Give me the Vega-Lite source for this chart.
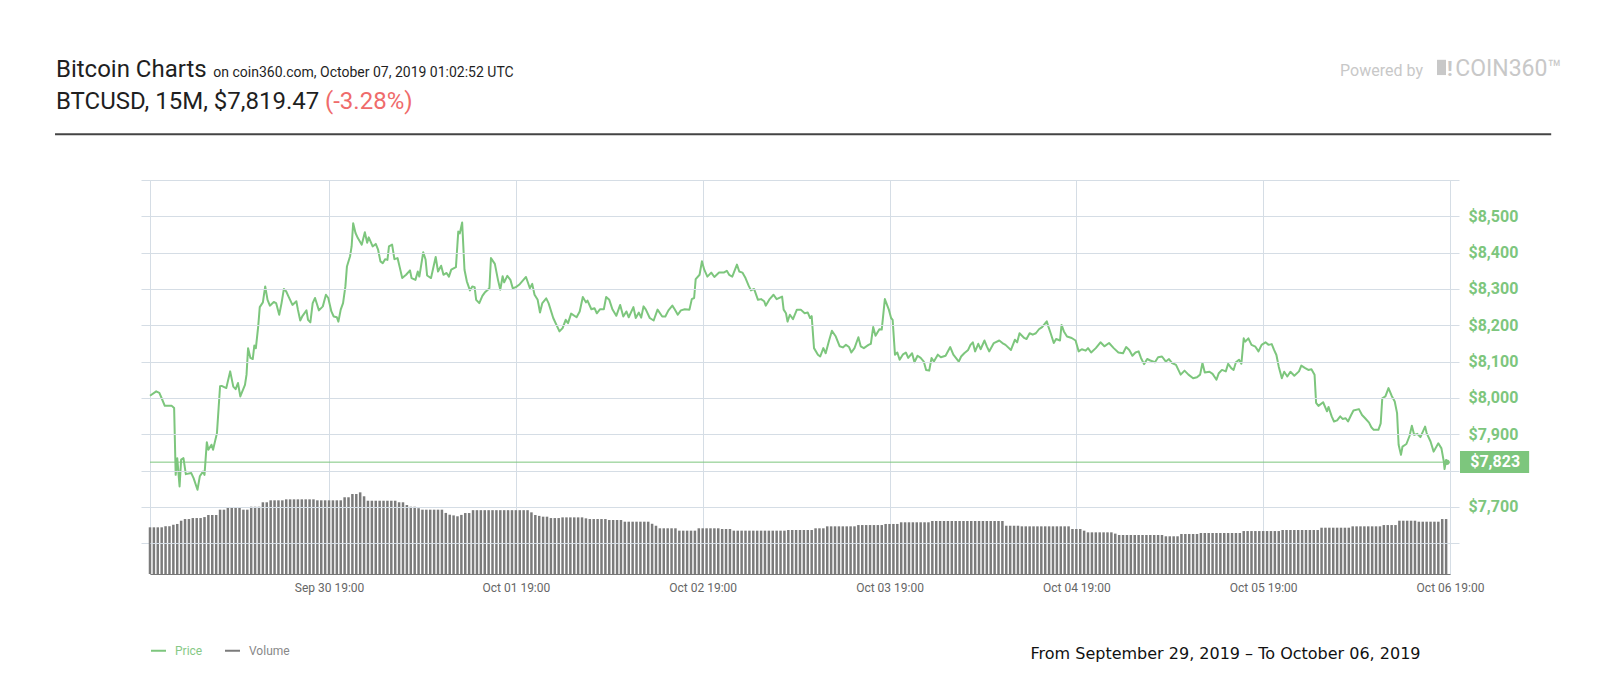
{
  "$schema": "https://vega.github.io/schema/vega-lite/v6.json",
  "width": 1300,
  "height": 394,
  "autosize": "none",
  "padding": {"left": 150, "top": 180, "right": 150, "bottom": 126},
  "background": "white",
  "config": {"font": "Roboto", "view": {"stroke": "#d5dde5"}},
  "datasets": {
    "price": [
      {"t":"2019-09-29T20:00Z","p":8006},{"t":"2019-09-29T20:48Z","p":8018},{"t":"2019-09-29T21:12Z","p":8014},{"t":"2019-09-29T21:30Z","p":7999},{"t":"2019-09-29T21:54Z","p":7978},{"t":"2019-09-29T22:48Z","p":7978},{"t":"2019-09-29T23:06Z","p":7972},{"t":"2019-09-29T23:18Z","p":7788},{"t":"2019-09-29T23:30Z","p":7834},{"t":"2019-09-29T23:48Z","p":7756},
      {"t":"2019-09-30T00:00Z","p":7830},{"t":"2019-09-30T00:18Z","p":7834},{"t":"2019-09-30T00:36Z","p":7790},{"t":"2019-09-30T01:18Z","p":7793},{"t":"2019-09-30T01:36Z","p":7779},{"t":"2019-09-30T02:06Z","p":7747},{"t":"2019-09-30T02:24Z","p":7784},{"t":"2019-09-30T02:48Z","p":7797},{"t":"2019-09-30T03:00Z","p":7788},{"t":"2019-09-30T03:18Z","p":7878},{"t":"2019-09-30T03:30Z","p":7857},{"t":"2019-09-30T03:54Z","p":7871},{"t":"2019-09-30T04:06Z","p":7857},{"t":"2019-09-30T04:36Z","p":7903},{"t":"2019-09-30T05:00Z","p":8032},{"t":"2019-09-30T05:12Z","p":8033},{"t":"2019-09-30T05:48Z","p":8027},{"t":"2019-09-30T06:18Z","p":8073},{"t":"2019-09-30T06:42Z","p":8031},{"t":"2019-09-30T07:00Z","p":8024},{"t":"2019-09-30T07:18Z","p":8041},{"t":"2019-09-30T07:36Z","p":8004},{"t":"2019-09-30T08:12Z","p":8036},{"t":"2019-09-30T08:24Z","p":8064},{"t":"2019-09-30T08:36Z","p":8137},{"t":"2019-09-30T08:54Z","p":8110},{"t":"2019-09-30T09:12Z","p":8107},{"t":"2019-09-30T09:24Z","p":8144},{"t":"2019-09-30T09:36Z","p":8137},{"t":"2019-09-30T09:54Z","p":8197},{"t":"2019-09-30T10:06Z","p":8250},{"t":"2019-09-30T10:30Z","p":8263},{"t":"2019-09-30T10:48Z","p":8307},{"t":"2019-09-30T11:06Z","p":8270},{"t":"2019-09-30T11:24Z","p":8254},{"t":"2019-09-30T11:54Z","p":8264},{"t":"2019-09-30T12:12Z","p":8261},{"t":"2019-09-30T12:36Z","p":8229},{"t":"2019-09-30T12:54Z","p":8261},{"t":"2019-09-30T13:12Z","p":8300},{"t":"2019-09-30T13:30Z","p":8293},{"t":"2019-09-30T13:48Z","p":8279},{"t":"2019-09-30T14:18Z","p":8256},{"t":"2019-09-30T14:48Z","p":8266},{"t":"2019-09-30T15:00Z","p":8243},{"t":"2019-09-30T15:18Z","p":8213},{"t":"2019-09-30T15:36Z","p":8226},{"t":"2019-09-30T16:06Z","p":8241},{"t":"2019-09-30T16:18Z","p":8215},{"t":"2019-09-30T16:36Z","p":8208},{"t":"2019-09-30T16:54Z","p":8261},{"t":"2019-09-30T17:12Z","p":8275},{"t":"2019-09-30T17:42Z","p":8241},{"t":"2019-09-30T18:12Z","p":8252},{"t":"2019-09-30T18:36Z","p":8284},{"t":"2019-09-30T18:54Z","p":8275},{"t":"2019-09-30T19:18Z","p":8238},{"t":"2019-09-30T19:36Z","p":8224},{"t":"2019-09-30T20:00Z","p":8222},{"t":"2019-09-30T20:12Z","p":8210},{"t":"2019-09-30T20:30Z","p":8243},{"t":"2019-09-30T20:48Z","p":8261},{"t":"2019-09-30T21:06Z","p":8307},{"t":"2019-09-30T21:18Z","p":8362},{"t":"2019-09-30T21:42Z","p":8390},{"t":"2019-09-30T21:54Z","p":8417},{"t":"2019-09-30T22:06Z","p":8481},{"t":"2019-09-30T22:24Z","p":8454},{"t":"2019-09-30T22:42Z","p":8440},{"t":"2019-09-30T23:12Z","p":8422},{"t":"2019-09-30T23:36Z","p":8456},{"t":"2019-09-30T23:54Z","p":8427},
      {"t":"2019-10-01T00:06Z","p":8442},{"t":"2019-10-01T00:36Z","p":8417},{"t":"2019-10-01T01:00Z","p":8424},{"t":"2019-10-01T01:18Z","p":8408},{"t":"2019-10-01T01:36Z","p":8376},{"t":"2019-10-01T01:54Z","p":8371},{"t":"2019-10-01T02:12Z","p":8382},{"t":"2019-10-01T02:30Z","p":8380},{"t":"2019-10-01T02:42Z","p":8417},{"t":"2019-10-01T03:06Z","p":8422},{"t":"2019-10-01T03:24Z","p":8382},{"t":"2019-10-01T03:48Z","p":8385},{"t":"2019-10-01T04:06Z","p":8358},{"t":"2019-10-01T04:24Z","p":8330},{"t":"2019-10-01T04:54Z","p":8339},{"t":"2019-10-01T05:24Z","p":8351},{"t":"2019-10-01T05:36Z","p":8330},{"t":"2019-10-01T06:06Z","p":8325},{"t":"2019-10-01T06:24Z","p":8348},{"t":"2019-10-01T06:36Z","p":8334},{"t":"2019-10-01T07:06Z","p":8401},{"t":"2019-10-01T07:24Z","p":8381},{"t":"2019-10-01T07:36Z","p":8337},{"t":"2019-10-01T08:06Z","p":8330},{"t":"2019-10-01T08:42Z","p":8388},{"t":"2019-10-01T09:00Z","p":8348},{"t":"2019-10-01T09:24Z","p":8364},{"t":"2019-10-01T09:42Z","p":8339},{"t":"2019-10-01T10:06Z","p":8344},{"t":"2019-10-01T10:24Z","p":8334},{"t":"2019-10-01T10:42Z","p":8353},{"t":"2019-10-01T11:18Z","p":8360},{"t":"2019-10-01T11:36Z","p":8458},{"t":"2019-10-01T11:48Z","p":8453},{"t":"2019-10-01T12:06Z","p":8483},{"t":"2019-10-01T12:24Z","p":8353},{"t":"2019-10-01T12:42Z","p":8321},{"t":"2019-10-01T13:06Z","p":8296},{"t":"2019-10-01T13:24Z","p":8307},{"t":"2019-10-01T13:42Z","p":8305},{"t":"2019-10-01T13:54Z","p":8270},{"t":"2019-10-01T14:18Z","p":8261},{"t":"2019-10-01T14:42Z","p":8281},{"t":"2019-10-01T15:00Z","p":8290},{"t":"2019-10-01T15:24Z","p":8298},{"t":"2019-10-01T15:36Z","p":8302},{"t":"2019-10-01T15:48Z","p":8385},{"t":"2019-10-01T16:18Z","p":8369},{"t":"2019-10-01T16:42Z","p":8325},{"t":"2019-10-01T17:00Z","p":8298},{"t":"2019-10-01T17:18Z","p":8335},{"t":"2019-10-01T17:30Z","p":8318},{"t":"2019-10-01T17:54Z","p":8336},{"t":"2019-10-01T18:18Z","p":8325},{"t":"2019-10-01T18:36Z","p":8302},{"t":"2019-10-01T19:00Z","p":8305},{"t":"2019-10-01T19:30Z","p":8313},{"t":"2019-10-01T20:18Z","p":8333},{"t":"2019-10-01T20:48Z","p":8302},{"t":"2019-10-01T21:06Z","p":8314},{"t":"2019-10-01T21:24Z","p":8284},{"t":"2019-10-01T21:48Z","p":8270},{"t":"2019-10-01T22:06Z","p":8235},{"t":"2019-10-01T22:24Z","p":8261},{"t":"2019-10-01T22:54Z","p":8274},{"t":"2019-10-01T23:12Z","p":8261},{"t":"2019-10-01T23:48Z","p":8220},
      {"t":"2019-10-02T00:36Z","p":8183},{"t":"2019-10-02T01:00Z","p":8192},{"t":"2019-10-02T01:24Z","p":8215},{"t":"2019-10-02T01:42Z","p":8206},{"t":"2019-10-02T02:06Z","p":8232},{"t":"2019-10-02T02:48Z","p":8222},{"t":"2019-10-02T03:12Z","p":8238},{"t":"2019-10-02T03:36Z","p":8278},{"t":"2019-10-02T04:00Z","p":8263},{"t":"2019-10-02T04:12Z","p":8268},{"t":"2019-10-02T04:42Z","p":8244},{"t":"2019-10-02T05:06Z","p":8247},{"t":"2019-10-02T05:24Z","p":8233},{"t":"2019-10-02T05:48Z","p":8244},{"t":"2019-10-02T06:18Z","p":8244},{"t":"2019-10-02T06:36Z","p":8278},{"t":"2019-10-02T07:00Z","p":8270},{"t":"2019-10-02T07:24Z","p":8244},{"t":"2019-10-02T07:54Z","p":8226},{"t":"2019-10-02T08:24Z","p":8256},{"t":"2019-10-02T08:48Z","p":8224},{"t":"2019-10-02T09:12Z","p":8238},{"t":"2019-10-02T09:30Z","p":8222},{"t":"2019-10-02T10:06Z","p":8250},{"t":"2019-10-02T10:24Z","p":8220},{"t":"2019-10-02T10:48Z","p":8235},{"t":"2019-10-02T11:06Z","p":8221},{"t":"2019-10-02T11:24Z","p":8252},{"t":"2019-10-02T11:42Z","p":8243},{"t":"2019-10-02T12:12Z","p":8220},{"t":"2019-10-02T12:42Z","p":8213},{"t":"2019-10-02T13:12Z","p":8243},{"t":"2019-10-02T13:48Z","p":8224},{"t":"2019-10-02T14:12Z","p":8224},{"t":"2019-10-02T14:36Z","p":8241},{"t":"2019-10-02T15:06Z","p":8254},{"t":"2019-10-02T15:24Z","p":8244},{"t":"2019-10-02T15:48Z","p":8229},{"t":"2019-10-02T16:12Z","p":8241},{"t":"2019-10-02T16:42Z","p":8244},{"t":"2019-10-02T17:18Z","p":8243},{"t":"2019-10-02T17:36Z","p":8272},{"t":"2019-10-02T17:54Z","p":8275},{"t":"2019-10-02T18:06Z","p":8327},{"t":"2019-10-02T18:36Z","p":8339},{"t":"2019-10-02T18:54Z","p":8376},{"t":"2019-10-02T19:12Z","p":8353},{"t":"2019-10-02T19:36Z","p":8334},{"t":"2019-10-02T20:06Z","p":8345},{"t":"2019-10-02T20:30Z","p":8333},{"t":"2019-10-02T21:06Z","p":8345},{"t":"2019-10-02T21:42Z","p":8345},{"t":"2019-10-02T22:06Z","p":8350},{"t":"2019-10-02T22:24Z","p":8339},{"t":"2019-10-02T22:48Z","p":8334},{"t":"2019-10-02T23:24Z","p":8367},{"t":"2019-10-02T23:42Z","p":8348},
      {"t":"2019-10-03T00:06Z","p":8345},{"t":"2019-10-03T00:30Z","p":8330},{"t":"2019-10-03T00:54Z","p":8309},{"t":"2019-10-03T01:12Z","p":8296},{"t":"2019-10-03T01:36Z","p":8300},{"t":"2019-10-03T02:06Z","p":8270},{"t":"2019-10-03T02:30Z","p":8272},{"t":"2019-10-03T02:54Z","p":8266},{"t":"2019-10-03T03:06Z","p":8254},{"t":"2019-10-03T03:36Z","p":8272},{"t":"2019-10-03T04:06Z","p":8284},{"t":"2019-10-03T04:30Z","p":8272},{"t":"2019-10-03T05:12Z","p":8279},{"t":"2019-10-03T05:24Z","p":8243},{"t":"2019-10-03T05:42Z","p":8233},{"t":"2019-10-03T05:54Z","p":8210},{"t":"2019-10-03T06:12Z","p":8229},{"t":"2019-10-03T06:36Z","p":8217},{"t":"2019-10-03T07:06Z","p":8243},{"t":"2019-10-03T07:36Z","p":8243},{"t":"2019-10-03T08:06Z","p":8233},{"t":"2019-10-03T08:30Z","p":8235},{"t":"2019-10-03T08:48Z","p":8220},{"t":"2019-10-03T09:00Z","p":8225},{"t":"2019-10-03T09:18Z","p":8137},{"t":"2019-10-03T09:48Z","p":8119},{"t":"2019-10-03T10:06Z","p":8114},{"t":"2019-10-03T10:30Z","p":8137},{"t":"2019-10-03T10:48Z","p":8123},{"t":"2019-10-03T11:12Z","p":8155},{"t":"2019-10-03T11:36Z","p":8185},{"t":"2019-10-03T12:06Z","p":8169},{"t":"2019-10-03T12:36Z","p":8142},{"t":"2019-10-03T13:00Z","p":8139},{"t":"2019-10-03T13:24Z","p":8146},{"t":"2019-10-03T13:48Z","p":8140},{"t":"2019-10-03T14:06Z","p":8125},{"t":"2019-10-03T14:30Z","p":8137},{"t":"2019-10-03T15:00Z","p":8167},{"t":"2019-10-03T15:18Z","p":8142},{"t":"2019-10-03T15:42Z","p":8137},{"t":"2019-10-03T16:18Z","p":8146},{"t":"2019-10-03T16:36Z","p":8149},{"t":"2019-10-03T16:54Z","p":8195},{"t":"2019-10-03T17:12Z","p":8171},{"t":"2019-10-03T17:42Z","p":8189},{"t":"2019-10-03T18:00Z","p":8188},{"t":"2019-10-03T18:24Z","p":8272},{"t":"2019-10-03T18:54Z","p":8244},{"t":"2019-10-03T19:12Z","p":8220},{"t":"2019-10-03T19:24Z","p":8215},{"t":"2019-10-03T19:42Z","p":8119},{"t":"2019-10-03T20:00Z","p":8125},{"t":"2019-10-03T20:18Z","p":8105},{"t":"2019-10-03T20:42Z","p":8119},{"t":"2019-10-03T21:06Z","p":8125},{"t":"2019-10-03T21:24Z","p":8110},{"t":"2019-10-03T21:54Z","p":8123},{"t":"2019-10-03T22:12Z","p":8098},{"t":"2019-10-03T22:36Z","p":8116},{"t":"2019-10-03T23:00Z","p":8110},{"t":"2019-10-03T23:24Z","p":8100},{"t":"2019-10-03T23:42Z","p":8077},
      {"t":"2019-10-04T00:06Z","p":8075},{"t":"2019-10-04T00:24Z","p":8110},{"t":"2019-10-04T00:42Z","p":8100},{"t":"2019-10-04T01:12Z","p":8119},{"t":"2019-10-04T01:36Z","p":8112},{"t":"2019-10-04T02:12Z","p":8116},{"t":"2019-10-04T02:48Z","p":8140},{"t":"2019-10-04T03:12Z","p":8119},{"t":"2019-10-04T03:54Z","p":8100},{"t":"2019-10-04T04:12Z","p":8114},{"t":"2019-10-04T04:36Z","p":8123},{"t":"2019-10-04T05:06Z","p":8132},{"t":"2019-10-04T05:24Z","p":8146},{"t":"2019-10-04T05:42Z","p":8153},{"t":"2019-10-04T06:00Z","p":8128},{"t":"2019-10-04T06:24Z","p":8149},{"t":"2019-10-04T06:42Z","p":8134},{"t":"2019-10-04T07:12Z","p":8158},{"t":"2019-10-04T07:30Z","p":8142},{"t":"2019-10-04T07:48Z","p":8128},{"t":"2019-10-04T08:24Z","p":8151},{"t":"2019-10-04T09:06Z","p":8158},{"t":"2019-10-04T09:30Z","p":8151},{"t":"2019-10-04T09:54Z","p":8146},{"t":"2019-10-04T10:36Z","p":8132},{"t":"2019-10-04T11:06Z","p":8160},{"t":"2019-10-04T11:24Z","p":8153},{"t":"2019-10-04T11:42Z","p":8178},{"t":"2019-10-04T12:18Z","p":8165},{"t":"2019-10-04T12:36Z","p":8162},{"t":"2019-10-04T13:00Z","p":8178},{"t":"2019-10-04T13:24Z","p":8174},{"t":"2019-10-04T13:48Z","p":8178},{"t":"2019-10-04T14:12Z","p":8189},{"t":"2019-10-04T14:36Z","p":8195},{"t":"2019-10-04T15:12Z","p":8211},{"t":"2019-10-04T15:24Z","p":8197},{"t":"2019-10-04T15:42Z","p":8178},{"t":"2019-10-04T16:06Z","p":8151},{"t":"2019-10-04T16:24Z","p":8162},{"t":"2019-10-04T16:54Z","p":8158},{"t":"2019-10-04T17:06Z","p":8201},{"t":"2019-10-04T17:24Z","p":8183},{"t":"2019-10-04T17:48Z","p":8169},{"t":"2019-10-04T18:24Z","p":8165},{"t":"2019-10-04T18:54Z","p":8158},{"t":"2019-10-04T19:18Z","p":8128},{"t":"2019-10-04T19:42Z","p":8134},{"t":"2019-10-04T20:12Z","p":8130},{"t":"2019-10-04T20:30Z","p":8137},{"t":"2019-10-04T20:54Z","p":8125},{"t":"2019-10-04T21:30Z","p":8137},{"t":"2019-10-04T22:06Z","p":8153},{"t":"2019-10-04T22:36Z","p":8142},{"t":"2019-10-04T23:12Z","p":8151},{"t":"2019-10-04T23:48Z","p":8137},
      {"t":"2019-10-05T00:24Z","p":8125},{"t":"2019-10-05T01:00Z","p":8123},{"t":"2019-10-05T01:24Z","p":8140},{"t":"2019-10-05T01:48Z","p":8132},{"t":"2019-10-05T02:12Z","p":8116},{"t":"2019-10-05T02:36Z","p":8125},{"t":"2019-10-05T03:00Z","p":8128},{"t":"2019-10-05T03:18Z","p":8110},{"t":"2019-10-05T03:42Z","p":8093},{"t":"2019-10-05T04:06Z","p":8107},{"t":"2019-10-05T04:30Z","p":8103},{"t":"2019-10-05T05:06Z","p":8098},{"t":"2019-10-05T05:30Z","p":8112},{"t":"2019-10-05T06:00Z","p":8114},{"t":"2019-10-05T06:30Z","p":8100},{"t":"2019-10-05T06:54Z","p":8107},{"t":"2019-10-05T07:18Z","p":8096},{"t":"2019-10-05T07:48Z","p":8091},{"t":"2019-10-05T08:24Z","p":8064},{"t":"2019-10-05T08:54Z","p":8075},{"t":"2019-10-05T09:24Z","p":8064},{"t":"2019-10-05T10:00Z","p":8054},{"t":"2019-10-05T10:30Z","p":8057},{"t":"2019-10-05T10:54Z","p":8064},{"t":"2019-10-05T11:12Z","p":8096},{"t":"2019-10-05T11:30Z","p":8070},{"t":"2019-10-05T12:06Z","p":8072},{"t":"2019-10-05T12:30Z","p":8066},{"t":"2019-10-05T13:00Z","p":8050},{"t":"2019-10-05T13:18Z","p":8068},{"t":"2019-10-05T13:42Z","p":8077},{"t":"2019-10-05T14:12Z","p":8073},{"t":"2019-10-05T14:30Z","p":8094},{"t":"2019-10-05T14:54Z","p":8082},{"t":"2019-10-05T15:12Z","p":8077},{"t":"2019-10-05T15:30Z","p":8098},{"t":"2019-10-05T15:54Z","p":8105},{"t":"2019-10-05T16:12Z","p":8094},{"t":"2019-10-05T16:30Z","p":8164},{"t":"2019-10-05T16:42Z","p":8155},{"t":"2019-10-05T17:06Z","p":8164},{"t":"2019-10-05T17:30Z","p":8146},{"t":"2019-10-05T18:00Z","p":8141},{"t":"2019-10-05T18:24Z","p":8128},{"t":"2019-10-05T18:48Z","p":8146},{"t":"2019-10-05T19:18Z","p":8153},{"t":"2019-10-05T19:42Z","p":8146},{"t":"2019-10-05T20:06Z","p":8148},{"t":"2019-10-05T20:24Z","p":8132},{"t":"2019-10-05T20:42Z","p":8118},{"t":"2019-10-05T21:00Z","p":8086},{"t":"2019-10-05T21:24Z","p":8054},{"t":"2019-10-05T21:42Z","p":8072},{"t":"2019-10-05T22:06Z","p":8059},{"t":"2019-10-05T22:30Z","p":8072},{"t":"2019-10-05T23:00Z","p":8061},{"t":"2019-10-05T23:36Z","p":8073},{"t":"2019-10-05T23:54Z","p":8089},
      {"t":"2019-10-06T00:24Z","p":8082},{"t":"2019-10-06T00:48Z","p":8077},{"t":"2019-10-06T01:12Z","p":8079},{"t":"2019-10-06T01:36Z","p":8064},{"t":"2019-10-06T01:48Z","p":7986},{"t":"2019-10-06T02:06Z","p":7978},{"t":"2019-10-06T02:42Z","p":7988},{"t":"2019-10-06T03:12Z","p":7963},{"t":"2019-10-06T03:24Z","p":7975},{"t":"2019-10-06T03:48Z","p":7949},{"t":"2019-10-06T04:06Z","p":7935},{"t":"2019-10-06T04:30Z","p":7938},{"t":"2019-10-06T04:54Z","p":7949},{"t":"2019-10-06T05:12Z","p":7942},{"t":"2019-10-06T05:36Z","p":7944},{"t":"2019-10-06T05:54Z","p":7935},{"t":"2019-10-06T06:18Z","p":7953},{"t":"2019-10-06T06:36Z","p":7965},{"t":"2019-10-06T07:18Z","p":7969},{"t":"2019-10-06T07:42Z","p":7953},{"t":"2019-10-06T08:06Z","p":7944},{"t":"2019-10-06T08:36Z","p":7932},{"t":"2019-10-06T08:54Z","p":7919},{"t":"2019-10-06T09:12Z","p":7912},{"t":"2019-10-06T09:48Z","p":7912},{"t":"2019-10-06T10:06Z","p":7930},{"t":"2019-10-06T10:18Z","p":7999},{"t":"2019-10-06T10:42Z","p":8004},{"t":"2019-10-06T11:06Z","p":8027},{"t":"2019-10-06T11:30Z","p":8006},{"t":"2019-10-06T11:54Z","p":7990},{"t":"2019-10-06T12:12Z","p":7958},{"t":"2019-10-06T12:24Z","p":7871},{"t":"2019-10-06T12:42Z","p":7843},{"t":"2019-10-06T12:54Z","p":7866},{"t":"2019-10-06T13:24Z","p":7873},{"t":"2019-10-06T13:48Z","p":7895},{"t":"2019-10-06T14:06Z","p":7923},{"t":"2019-10-06T14:24Z","p":7898},{"t":"2019-10-06T14:48Z","p":7901},{"t":"2019-10-06T15:12Z","p":7892},{"t":"2019-10-06T15:48Z","p":7921},{"t":"2019-10-06T16:00Z","p":7903},{"t":"2019-10-06T16:30Z","p":7880},{"t":"2019-10-06T16:54Z","p":7852},{"t":"2019-10-06T17:30Z","p":7875},{"t":"2019-10-06T17:54Z","p":7861},{"t":"2019-10-06T18:12Z","p":7825},{"t":"2019-10-06T18:18Z","p":7804},{"t":"2019-10-06T18:30Z","p":7829},{"t":"2019-10-06T18:36Z","p":7823}
    ],
    "volume": [
      {"t":"2019-09-29T20:00Z","v":474},{"t":"2019-09-29T20:30Z","v":474},{"t":"2019-09-29T21:00Z","v":474},{"t":"2019-09-29T21:30Z","v":474},{"t":"2019-09-29T22:00Z","v":485},{"t":"2019-09-29T22:30Z","v":485},{"t":"2019-09-29T23:00Z","v":500},{"t":"2019-09-29T23:30Z","v":508},
      {"t":"2019-09-30T00:00Z","v":541},{"t":"2019-09-30T00:30Z","v":558},{"t":"2019-09-30T01:00Z","v":558},{"t":"2019-09-30T01:30Z","v":568},{"t":"2019-09-30T02:00Z","v":568},{"t":"2019-09-30T02:30Z","v":568},{"t":"2019-09-30T03:00Z","v":578},{"t":"2019-09-30T03:30Z","v":599},{"t":"2019-09-30T04:00Z","v":599},{"t":"2019-09-30T04:30Z","v":599},{"t":"2019-09-30T05:00Z","v":653},{"t":"2019-09-30T05:30Z","v":653},{"t":"2019-09-30T06:00Z","v":677},{"t":"2019-09-30T06:30Z","v":677},{"t":"2019-09-30T07:00Z","v":677},{"t":"2019-09-30T07:30Z","v":677},{"t":"2019-09-30T08:00Z","v":653},{"t":"2019-09-30T08:30Z","v":653},{"t":"2019-09-30T09:00Z","v":683},{"t":"2019-09-30T09:30Z","v":683},{"t":"2019-09-30T10:00Z","v":683},{"t":"2019-09-30T10:30Z","v":728},{"t":"2019-09-30T11:00Z","v":728},{"t":"2019-09-30T11:30Z","v":748},{"t":"2019-09-30T12:00Z","v":748},{"t":"2019-09-30T12:30Z","v":748},{"t":"2019-09-30T13:00Z","v":748},{"t":"2019-09-30T13:30Z","v":758},{"t":"2019-09-30T14:00Z","v":758},{"t":"2019-09-30T14:30Z","v":758},{"t":"2019-09-30T15:00Z","v":758},{"t":"2019-09-30T15:30Z","v":758},{"t":"2019-09-30T16:00Z","v":758},{"t":"2019-09-30T16:30Z","v":758},{"t":"2019-09-30T17:00Z","v":758},{"t":"2019-09-30T17:30Z","v":748},{"t":"2019-09-30T18:00Z","v":748},{"t":"2019-09-30T18:30Z","v":748},{"t":"2019-09-30T19:00Z","v":748},{"t":"2019-09-30T19:30Z","v":748},{"t":"2019-09-30T20:00Z","v":748},{"t":"2019-09-30T20:30Z","v":748},{"t":"2019-09-30T21:00Z","v":779},{"t":"2019-09-30T21:30Z","v":779},{"t":"2019-09-30T22:00Z","v":812},{"t":"2019-09-30T22:30Z","v":812},{"t":"2019-09-30T23:00Z","v":829},{"t":"2019-09-30T23:30Z","v":789},
      {"t":"2019-10-01T00:00Z","v":744},{"t":"2019-10-01T00:30Z","v":744},{"t":"2019-10-01T01:00Z","v":744},{"t":"2019-10-01T01:30Z","v":744},{"t":"2019-10-01T02:00Z","v":744},{"t":"2019-10-01T02:30Z","v":744},{"t":"2019-10-01T03:00Z","v":744},{"t":"2019-10-01T03:30Z","v":744},{"t":"2019-10-01T04:00Z","v":728},{"t":"2019-10-01T04:30Z","v":728},{"t":"2019-10-01T05:00Z","v":700},{"t":"2019-10-01T05:30Z","v":683},{"t":"2019-10-01T06:00Z","v":683},{"t":"2019-10-01T06:30Z","v":668},{"t":"2019-10-01T07:00Z","v":653},{"t":"2019-10-01T07:30Z","v":653},{"t":"2019-10-01T08:00Z","v":653},{"t":"2019-10-01T08:30Z","v":653},{"t":"2019-10-01T09:00Z","v":653},{"t":"2019-10-01T09:30Z","v":653},{"t":"2019-10-01T10:00Z","v":620},{"t":"2019-10-01T10:30Z","v":602},{"t":"2019-10-01T11:00Z","v":595},{"t":"2019-10-01T11:30Z","v":586},{"t":"2019-10-01T12:00Z","v":600},{"t":"2019-10-01T12:30Z","v":619},{"t":"2019-10-01T13:00Z","v":619},{"t":"2019-10-01T13:30Z","v":648},{"t":"2019-10-01T14:00Z","v":648},{"t":"2019-10-01T14:30Z","v":648},{"t":"2019-10-01T15:00Z","v":648},{"t":"2019-10-01T15:30Z","v":648},{"t":"2019-10-01T16:00Z","v":648},{"t":"2019-10-01T16:30Z","v":648},{"t":"2019-10-01T17:00Z","v":648},{"t":"2019-10-01T17:30Z","v":648},{"t":"2019-10-01T18:00Z","v":648},{"t":"2019-10-01T18:30Z","v":648},{"t":"2019-10-01T19:00Z","v":648},{"t":"2019-10-01T19:30Z","v":648},{"t":"2019-10-01T20:00Z","v":648},{"t":"2019-10-01T20:30Z","v":648},{"t":"2019-10-01T21:00Z","v":626},{"t":"2019-10-01T21:30Z","v":599},{"t":"2019-10-01T22:00Z","v":590},{"t":"2019-10-01T22:30Z","v":582},{"t":"2019-10-01T23:00Z","v":582},{"t":"2019-10-01T23:30Z","v":568},
      {"t":"2019-10-02T00:00Z","v":568},{"t":"2019-10-02T00:30Z","v":568},{"t":"2019-10-02T01:00Z","v":575},{"t":"2019-10-02T01:30Z","v":575},{"t":"2019-10-02T02:00Z","v":575},{"t":"2019-10-02T02:30Z","v":575},{"t":"2019-10-02T03:00Z","v":575},{"t":"2019-10-02T03:30Z","v":575},{"t":"2019-10-02T04:00Z","v":565},{"t":"2019-10-02T04:30Z","v":558},{"t":"2019-10-02T05:00Z","v":558},{"t":"2019-10-02T05:30Z","v":558},{"t":"2019-10-02T06:00Z","v":558},{"t":"2019-10-02T06:30Z","v":558},{"t":"2019-10-02T07:00Z","v":548},{"t":"2019-10-02T07:30Z","v":548},{"t":"2019-10-02T08:00Z","v":548},{"t":"2019-10-02T08:30Z","v":548},{"t":"2019-10-02T09:00Z","v":531},{"t":"2019-10-02T09:30Z","v":531},{"t":"2019-10-02T10:00Z","v":531},{"t":"2019-10-02T10:30Z","v":531},{"t":"2019-10-02T11:00Z","v":531},{"t":"2019-10-02T11:30Z","v":531},{"t":"2019-10-02T12:00Z","v":531},{"t":"2019-10-02T12:30Z","v":510},{"t":"2019-10-02T13:00Z","v":490},{"t":"2019-10-02T13:30Z","v":464},{"t":"2019-10-02T14:00Z","v":464},{"t":"2019-10-02T14:30Z","v":464},{"t":"2019-10-02T15:00Z","v":464},{"t":"2019-10-02T15:30Z","v":464},{"t":"2019-10-02T16:00Z","v":440},{"t":"2019-10-02T16:30Z","v":440},{"t":"2019-10-02T17:00Z","v":440},{"t":"2019-10-02T17:30Z","v":440},{"t":"2019-10-02T18:00Z","v":440},{"t":"2019-10-02T18:30Z","v":464},{"t":"2019-10-02T19:00Z","v":464},{"t":"2019-10-02T19:30Z","v":464},{"t":"2019-10-02T20:00Z","v":464},{"t":"2019-10-02T20:30Z","v":464},{"t":"2019-10-02T21:00Z","v":464},{"t":"2019-10-02T21:30Z","v":457},{"t":"2019-10-02T22:00Z","v":457},{"t":"2019-10-02T22:30Z","v":457},{"t":"2019-10-02T23:00Z","v":440},{"t":"2019-10-02T23:30Z","v":440},
      {"t":"2019-10-03T00:00Z","v":440},{"t":"2019-10-03T00:30Z","v":440},{"t":"2019-10-03T01:00Z","v":440},{"t":"2019-10-03T01:30Z","v":440},{"t":"2019-10-03T02:00Z","v":440},{"t":"2019-10-03T02:30Z","v":440},{"t":"2019-10-03T03:00Z","v":440},{"t":"2019-10-03T03:30Z","v":440},{"t":"2019-10-03T04:00Z","v":440},{"t":"2019-10-03T04:30Z","v":440},{"t":"2019-10-03T05:00Z","v":440},{"t":"2019-10-03T05:30Z","v":440},{"t":"2019-10-03T06:00Z","v":447},{"t":"2019-10-03T06:30Z","v":447},{"t":"2019-10-03T07:00Z","v":447},{"t":"2019-10-03T07:30Z","v":447},{"t":"2019-10-03T08:00Z","v":447},{"t":"2019-10-03T08:30Z","v":447},{"t":"2019-10-03T09:00Z","v":447},{"t":"2019-10-03T09:30Z","v":464},{"t":"2019-10-03T10:00Z","v":464},{"t":"2019-10-03T10:30Z","v":464},{"t":"2019-10-03T11:00Z","v":484},{"t":"2019-10-03T11:30Z","v":484},{"t":"2019-10-03T12:00Z","v":484},{"t":"2019-10-03T12:30Z","v":484},{"t":"2019-10-03T13:00Z","v":484},{"t":"2019-10-03T13:30Z","v":484},{"t":"2019-10-03T14:00Z","v":484},{"t":"2019-10-03T14:30Z","v":484},{"t":"2019-10-03T15:00Z","v":497},{"t":"2019-10-03T15:30Z","v":497},{"t":"2019-10-03T16:00Z","v":497},{"t":"2019-10-03T16:30Z","v":497},{"t":"2019-10-03T17:00Z","v":497},{"t":"2019-10-03T17:30Z","v":497},{"t":"2019-10-03T18:00Z","v":497},{"t":"2019-10-03T18:30Z","v":508},{"t":"2019-10-03T19:00Z","v":508},{"t":"2019-10-03T19:30Z","v":508},{"t":"2019-10-03T20:00Z","v":508},{"t":"2019-10-03T20:30Z","v":525},{"t":"2019-10-03T21:00Z","v":525},{"t":"2019-10-03T21:30Z","v":525},{"t":"2019-10-03T22:00Z","v":525},{"t":"2019-10-03T22:30Z","v":525},{"t":"2019-10-03T23:00Z","v":525},{"t":"2019-10-03T23:30Z","v":525},
      {"t":"2019-10-04T00:00Z","v":525},{"t":"2019-10-04T00:30Z","v":538},{"t":"2019-10-04T01:00Z","v":538},{"t":"2019-10-04T01:30Z","v":538},{"t":"2019-10-04T02:00Z","v":538},{"t":"2019-10-04T02:30Z","v":538},{"t":"2019-10-04T03:00Z","v":538},{"t":"2019-10-04T03:30Z","v":538},{"t":"2019-10-04T04:00Z","v":538},{"t":"2019-10-04T04:30Z","v":538},{"t":"2019-10-04T05:00Z","v":538},{"t":"2019-10-04T05:30Z","v":538},{"t":"2019-10-04T06:00Z","v":538},{"t":"2019-10-04T06:30Z","v":538},{"t":"2019-10-04T07:00Z","v":538},{"t":"2019-10-04T07:30Z","v":538},{"t":"2019-10-04T08:00Z","v":538},{"t":"2019-10-04T08:30Z","v":538},{"t":"2019-10-04T09:00Z","v":538},{"t":"2019-10-04T09:30Z","v":538},{"t":"2019-10-04T10:00Z","v":490},{"t":"2019-10-04T10:30Z","v":490},{"t":"2019-10-04T11:00Z","v":490},{"t":"2019-10-04T11:30Z","v":490},{"t":"2019-10-04T12:00Z","v":484},{"t":"2019-10-04T12:30Z","v":484},{"t":"2019-10-04T13:00Z","v":484},{"t":"2019-10-04T13:30Z","v":484},{"t":"2019-10-04T14:00Z","v":484},{"t":"2019-10-04T14:30Z","v":484},{"t":"2019-10-04T15:00Z","v":484},{"t":"2019-10-04T15:30Z","v":484},{"t":"2019-10-04T16:00Z","v":484},{"t":"2019-10-04T16:30Z","v":484},{"t":"2019-10-04T17:00Z","v":484},{"t":"2019-10-04T17:30Z","v":484},{"t":"2019-10-04T18:00Z","v":484},{"t":"2019-10-04T18:30Z","v":457},{"t":"2019-10-04T19:00Z","v":457},{"t":"2019-10-04T19:30Z","v":457},{"t":"2019-10-04T20:00Z","v":440},{"t":"2019-10-04T20:30Z","v":423},{"t":"2019-10-04T21:00Z","v":423},{"t":"2019-10-04T21:30Z","v":423},{"t":"2019-10-04T22:00Z","v":423},{"t":"2019-10-04T22:30Z","v":423},{"t":"2019-10-04T23:00Z","v":423},{"t":"2019-10-04T23:30Z","v":423},
      {"t":"2019-10-05T00:00Z","v":410},{"t":"2019-10-05T00:30Z","v":396},{"t":"2019-10-05T01:00Z","v":396},{"t":"2019-10-05T01:30Z","v":396},{"t":"2019-10-05T02:00Z","v":396},{"t":"2019-10-05T02:30Z","v":396},{"t":"2019-10-05T03:00Z","v":396},{"t":"2019-10-05T03:30Z","v":396},{"t":"2019-10-05T04:00Z","v":396},{"t":"2019-10-05T04:30Z","v":396},{"t":"2019-10-05T05:00Z","v":396},{"t":"2019-10-05T05:30Z","v":396},{"t":"2019-10-05T06:00Z","v":396},{"t":"2019-10-05T06:30Z","v":383},{"t":"2019-10-05T07:00Z","v":383},{"t":"2019-10-05T07:30Z","v":383},{"t":"2019-10-05T08:00Z","v":383},{"t":"2019-10-05T08:30Z","v":406},{"t":"2019-10-05T09:00Z","v":406},{"t":"2019-10-05T09:30Z","v":406},{"t":"2019-10-05T10:00Z","v":406},{"t":"2019-10-05T10:30Z","v":406},{"t":"2019-10-05T11:00Z","v":416},{"t":"2019-10-05T11:30Z","v":416},{"t":"2019-10-05T12:00Z","v":416},{"t":"2019-10-05T12:30Z","v":416},{"t":"2019-10-05T13:00Z","v":416},{"t":"2019-10-05T13:30Z","v":416},{"t":"2019-10-05T14:00Z","v":416},{"t":"2019-10-05T14:30Z","v":416},{"t":"2019-10-05T15:00Z","v":416},{"t":"2019-10-05T15:30Z","v":416},{"t":"2019-10-05T16:00Z","v":416},{"t":"2019-10-05T16:30Z","v":436},{"t":"2019-10-05T17:00Z","v":436},{"t":"2019-10-05T17:30Z","v":436},{"t":"2019-10-05T18:00Z","v":436},{"t":"2019-10-05T18:30Z","v":436},{"t":"2019-10-05T19:00Z","v":436},{"t":"2019-10-05T19:30Z","v":436},{"t":"2019-10-05T20:00Z","v":436},{"t":"2019-10-05T20:30Z","v":436},{"t":"2019-10-05T21:00Z","v":436},{"t":"2019-10-05T21:30Z","v":447},{"t":"2019-10-05T22:00Z","v":447},{"t":"2019-10-05T22:30Z","v":447},{"t":"2019-10-05T23:00Z","v":447},{"t":"2019-10-05T23:30Z","v":447},
      {"t":"2019-10-06T00:00Z","v":447},{"t":"2019-10-06T00:30Z","v":447},{"t":"2019-10-06T01:00Z","v":447},{"t":"2019-10-06T01:30Z","v":447},{"t":"2019-10-06T02:00Z","v":447},{"t":"2019-10-06T02:30Z","v":470},{"t":"2019-10-06T03:00Z","v":470},{"t":"2019-10-06T03:30Z","v":470},{"t":"2019-10-06T04:00Z","v":470},{"t":"2019-10-06T04:30Z","v":470},{"t":"2019-10-06T05:00Z","v":470},{"t":"2019-10-06T05:30Z","v":470},{"t":"2019-10-06T06:00Z","v":470},{"t":"2019-10-06T06:30Z","v":484},{"t":"2019-10-06T07:00Z","v":484},{"t":"2019-10-06T07:30Z","v":484},{"t":"2019-10-06T08:00Z","v":484},{"t":"2019-10-06T08:30Z","v":484},{"t":"2019-10-06T09:00Z","v":484},{"t":"2019-10-06T09:30Z","v":484},{"t":"2019-10-06T10:00Z","v":484},{"t":"2019-10-06T10:30Z","v":497},{"t":"2019-10-06T11:00Z","v":497},{"t":"2019-10-06T11:30Z","v":497},{"t":"2019-10-06T12:00Z","v":497},{"t":"2019-10-06T12:30Z","v":541},{"t":"2019-10-06T13:00Z","v":541},{"t":"2019-10-06T13:30Z","v":541},{"t":"2019-10-06T14:00Z","v":541},{"t":"2019-10-06T14:30Z","v":541},{"t":"2019-10-06T15:00Z","v":531},{"t":"2019-10-06T15:30Z","v":531},{"t":"2019-10-06T16:00Z","v":531},{"t":"2019-10-06T16:30Z","v":531},{"t":"2019-10-06T17:00Z","v":531},{"t":"2019-10-06T17:30Z","v":531},{"t":"2019-10-06T18:00Z","v":558},{"t":"2019-10-06T18:30Z","v":558}
    ]
  },
  "layer": [
    {
      "data": {"name": "volume"},
      "mark": {"type": "bar", "width": 2.5},
      "encoding": {
        "x": {
          "field": "t", "type": "temporal",
          "scale": {"type": "utc", "nice": false, "padding": 0, "domain": [{"year":2019,"month":9,"date":29,"hours":20,"utc":true},{"year":2019,"month":10,"date":6,"hours":19,"utc":true}]}
        },
        "y": {"field": "v", "type": "quantitative", "scale": {"domain": [0, 4000]}, "axis": null},
        "color": {
          "datum": "Volume",
          "scale": {"domain": ["Price", "Volume"], "range": ["#7dc67d", "#7b7b7b"]},
          "legend": {
            "orient": "none", "legendX": 0, "legendY": 462, "direction": "horizontal", "title": null,
            "symbolType": "stroke", "symbolSize": 225, "symbolStrokeWidth": 2,
            "labelFont": "Roboto", "labelFontSize": 12, "labelOffset": 8, "columnPadding": 18,
            "encode": {
              "labels": {"update": {"fill": {"signal": "datum.value === 'Price' ? '#86c986' : '#888888'"}}},
              "symbols": {"update": {"stroke": {"signal": "datum.value === 'Price' ? '#7dc67d' : '#888888'"}}}
            }
          }
        }
      }
    },
    {
      "data": {"name": "price"},
      "layer": [
        {
          "mark": {"type": "line", "strokeWidth": 2, "strokeJoin": "round"},
          "encoding": {
            "x": {
              "field": "t", "type": "temporal",
              "scale": {"type": "utc", "nice": false, "padding": 0, "domain": [{"year":2019,"month":9,"date":29,"hours":20,"utc":true},{"year":2019,"month":10,"date":6,"hours":19,"utc":true}]},
              "axis": {
                "values": [{"year":2019,"month":9,"date":30,"hours":19,"utc":true},{"year":2019,"month":10,"date":1,"hours":19,"utc":true},{"year":2019,"month":10,"date":2,"hours":19,"utc":true},{"year":2019,"month":10,"date":3,"hours":19,"utc":true},{"year":2019,"month":10,"date":4,"hours":19,"utc":true},{"year":2019,"month":10,"date":5,"hours":19,"utc":true},{"year":2019,"month":10,"date":6,"hours":19,"utc":true}],
                "labelExpr": "utcFormat(datum.value, '%b %d %H:%M')",
                "grid": true, "gridColor": "#d5dde5", "ticks": false,
                "domainColor": "#777777",
                "labelColor": "#666666", "labelFont": "Roboto", "labelFontSize": 12, "labelPadding": 8,
                "labelFlush": false, "labelOverlap": false,
                "title": "From September 29, 2019 – To October 06, 2019",
                "titleFont": "DejaVu Sans", "titleFontSize": 16, "titleFontWeight": "normal", "titleColor": "#111111",
                "titleX": 1270, "titleY": 84, "titleAlign": "right", "titleBaseline": "alphabetic", "titleAnchor": "end"
              }
            },
            "y": {
              "field": "p", "type": "quantitative",
              "scale": {"domain": [7515, 8600], "zero": false, "nice": false},
              "axis": {
                "orient": "right",
                "values": [7600, 7700, 7800, 7900, 8000, 8100, 8200, 8300, 8400, 8500, 8600],
                "labelExpr": "datum.value >= 7700 && datum.value <= 8500 && datum.value != 7800 ? '$' + format(datum.value, ',') : ''",
                "grid": true, "gridColor": "#d5dde5", "tickSize": 9, "tickColor": "#d5dde5", "domain": false,
                "labelPadding": 9, "labelColor": "#7dc67d", "labelFont": "Roboto", "labelFontSize": 16, "labelFontWeight": "bold",
                "title": null, "zindex": 1
              }
            },
            "color": {"datum": "Price"}
          }
        },
        {
          "data": {"values": [{}]},
          "mark": {"type": "rule", "color": "#7dc67d", "strokeWidth": 1},
          "encoding": {
            "y": {
              "datum": 7823, "type": "quantitative",
              "axis": {"orient": "left", "values": [7600, 7700, 7800, 7900, 8000, 8100, 8200, 8300, 8400, 8500, 8600], "labels": false, "domain": false, "grid": false, "tickSize": 9, "tickColor": "#d5dde5", "title": null}
            }
          }
        },
        {
          "data": {"values": [{}]},
          "mark": {"type": "point", "filled": true, "size": 30, "color": "#7dc67d", "opacity": 1},
          "encoding": {
            "x": {"datum": {"year":2019,"month":10,"date":6,"hours":18,"minutes":36,"utc":true}, "type": "temporal"},
            "y": {"datum": 7823, "type": "quantitative", "axis": null}
          }
        },
        {
          "data": {"values": [{}]},
          "mark": {"type": "rect", "color": "#7dc67d"},
          "encoding": {
            "x": {"datum": {"year":2019,"month":10,"date":6,"hours":20,"minutes":17,"utc":true}, "type": "temporal"},
            "x2": {"datum": {"year":2019,"month":10,"date":7,"hours":5,"minutes":10,"utc":true}},
            "y": {"datum": 7854, "type": "quantitative", "axis": null},
            "y2": {"datum": 7793}
          }
        },
        {
          "data": {"values": [{}]},
          "mark": {"type": "text", "color": "white", "font": "Roboto", "fontSize": 16, "fontWeight": "bold", "align": "center", "baseline": "middle"},
          "encoding": {
            "x": {"datum": {"year":2019,"month":10,"date":7,"hours":0,"minutes":48,"utc":true}, "type": "temporal"},
            "y": {"datum": 7823, "type": "quantitative", "axis": null},
            "text": {"value": "$7,823"}
          }
        },
        {
          "data": {"values": [{}]},
          "mark": {"type": "text", "color": "#1f1f1f", "font": "Roboto", "fontSize": 24, "align": "left", "baseline": "alphabetic"},
          "encoding": {
            "x": {"datum": {"year":2019,"month":9,"date":29,"hours":7,"minutes":55,"utc":true}, "type": "temporal"},
            "y": {"datum": 8883, "type": "quantitative", "axis": null},
            "text": {"value": "Bitcoin Charts"}
          }
        },
        {
          "data": {"values": [{}]},
          "mark": {"type": "text", "color": "#1f1f1f", "font": "Roboto", "fontSize": 14, "align": "left", "baseline": "alphabetic"},
          "encoding": {
            "x": {"datum": {"year":2019,"month":9,"date":30,"hours":4,"minutes":8,"utc":true}, "type": "temporal"},
            "y": {"datum": 8884, "type": "quantitative", "axis": null},
            "text": {"value": "on coin360.com, October 07, 2019 01:02:52 UTC"}
          }
        },
        {
          "data": {"values": [{}]},
          "mark": {"type": "text", "color": "#1f1f1f", "font": "Roboto", "fontSize": 24, "align": "left", "baseline": "alphabetic"},
          "encoding": {
            "x": {"datum": {"year":2019,"month":9,"date":29,"hours":7,"minutes":55,"utc":true}, "type": "temporal"},
            "y": {"datum": 8796, "type": "quantitative", "axis": null},
            "text": {"value": "BTCUSD, 15M, $7,819.47"}
          }
        },
        {
          "data": {"values": [{}]},
          "mark": {"type": "text", "color": "#ef6b6b", "font": "Roboto", "fontSize": 24, "align": "left", "baseline": "alphabetic"},
          "encoding": {
            "x": {"datum": {"year":2019,"month":9,"date":30,"hours":18,"minutes":29,"utc":true}, "type": "temporal"},
            "y": {"datum": 8796, "type": "quantitative", "axis": null},
            "text": {"value": "(-3.28%)"}
          }
        },
        {
          "data": {"values": [{}]},
          "mark": {"type": "rule", "color": "#444444", "strokeWidth": 2},
          "encoding": {
            "x": {"datum": {"year":2019,"month":9,"date":29,"hours":7,"minutes":48,"utc":true}, "type": "temporal"},
            "x2": {"datum": {"year":2019,"month":10,"date":7,"hours":8,"minutes":0,"utc":true}},
            "y": {"datum": 8726, "type": "quantitative", "axis": null}
          }
        },
        {
          "data": {"values": [{}]},
          "mark": {"type": "text", "color": "#c8c8c8", "font": "Roboto", "fontSize": 16, "align": "left", "baseline": "alphabetic"},
          "encoding": {
            "x": {"datum": {"year":2019,"month":10,"date":6,"hours":4,"minutes":53,"utc":true}, "type": "temporal"},
            "y": {"datum": 8886, "type": "quantitative", "axis": null},
            "text": {"value": "Powered by"}
          }
        },
        {
          "data": {"values": [{}]},
          "mark": {"type": "rect", "color": "#c8c8c8"},
          "encoding": {
            "x": {"datum": {"year":2019,"month":10,"date":6,"hours":17,"minutes":20,"utc":true}, "type": "temporal"},
            "x2": {"datum": {"year":2019,"month":10,"date":6,"hours":18,"minutes":29,"utc":true}},
            "y": {"datum": 8931, "type": "quantitative", "axis": null},
            "y2": {"datum": 8889}
          }
        },
        {
          "data": {"values": [{}]},
          "mark": {"type": "text", "color": "#c8c8c8", "font": "Roboto", "fontSize": 21, "fontWeight": "bold", "align": "left", "baseline": "alphabetic"},
          "encoding": {
            "x": {"datum": {"year":2019,"month":10,"date":6,"hours":18,"minutes":37,"utc":true}, "type": "temporal"},
            "y": {"datum": 8886, "type": "quantitative", "axis": null},
            "text": {"value": "!"}
          }
        },
        {
          "data": {"values": [{}]},
          "mark": {"type": "text", "color": "#c8c8c8", "font": "Roboto", "fontSize": 23, "align": "left", "baseline": "alphabetic"},
          "encoding": {
            "x": {"datum": {"year":2019,"month":10,"date":6,"hours":19,"minutes":40,"utc":true}, "type": "temporal"},
            "y": {"datum": 8886, "type": "quantitative", "axis": null},
            "text": {"value": "COIN360™"}
          }
        }
      ],
      "resolve": {"axis": {"y": "independent"}}
    }
  ],
  "resolve": {"scale": {"y": "independent"}}
}
